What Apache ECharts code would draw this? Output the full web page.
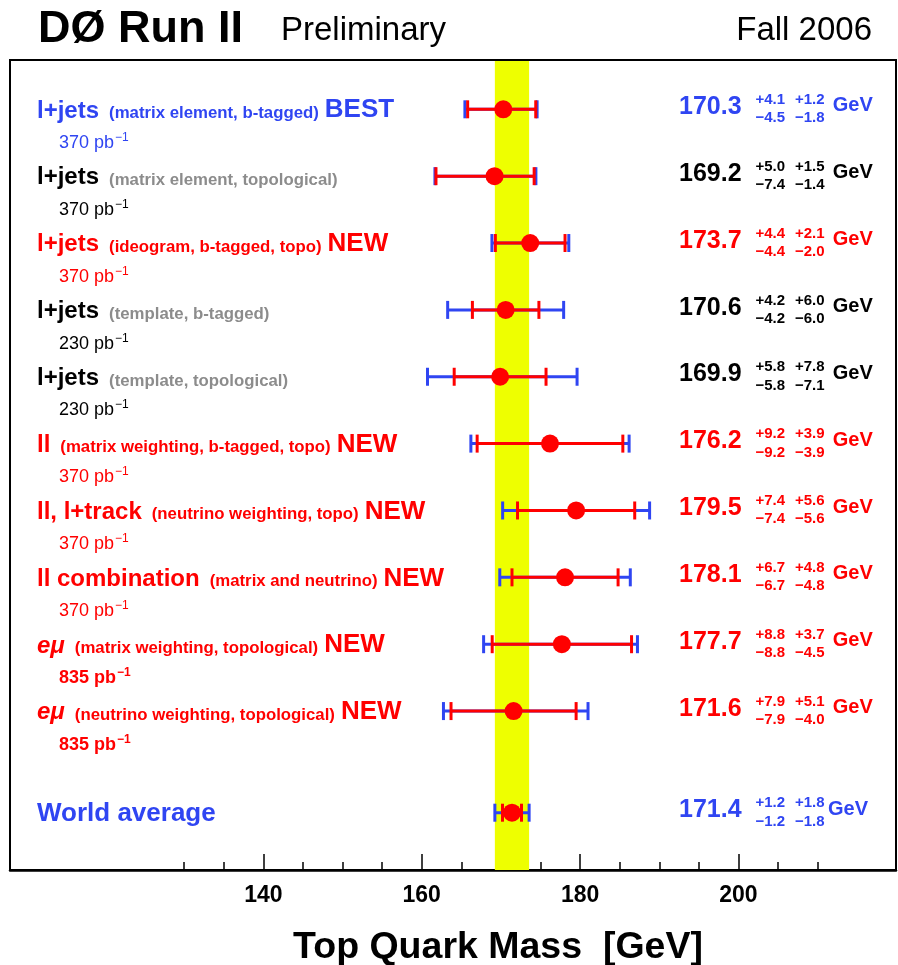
<!DOCTYPE html>
<html><head><meta charset="utf-8">
<script src="https://cdn.jsdelivr.net/npm/echarts@6/dist/echarts.min.js"></script>
<style>html,body{margin:0;padding:0;background:#fff}#c{width:898px;height:965px}</style>
</head><body><div id="c"></div>
<script>
// ---------------- data ----------------
const channels = ['l+jets','l+jets','l+jets','l+jets','l+jets','ll','ll, l+track','ll combination','eμ','eμ','World average'];
const methods = ['(matrix element, b-tagged)','(matrix element, topological)','(ideogram, b-tagged, topo)','(template, b-tagged)','(template, topological)','(matrix weighting, b-tagged, topo)','(neutrino weighting, topo)','(matrix and neutrino)','(matrix weighting, topological)','(neutrino weighting, topological)',''];
const tags = ['BEST','','NEW','','','NEW','NEW','NEW','NEW','NEW',''];
const luminosity = ['370','370','370','230','230','370','370','370','835','835',''];
const mass = [170.3,169.2,173.7,170.6,169.9,176.2,179.5,178.1,177.7,171.6,171.4];
const statPlus = [4.1,5.0,4.4,4.2,5.8,9.2,7.4,6.7,8.8,7.9,1.2];
const statMinus = [4.5,7.4,4.4,4.2,5.8,9.2,7.4,6.7,8.8,7.9,1.2];
const systPlus = [1.2,1.5,2.1,6.0,7.8,3.9,5.6,4.8,3.7,5.1,1.8];
const systMinus = [1.8,1.4,2.0,6.0,7.1,3.9,5.6,4.8,4.5,4.0,1.8];
const xMajorTicks = [140,160,180,200];
const xMinorTicks = [130,135,140,145,150,155,160,165,170,175,180,185,190,195,200,205,210];

// ---------------- style ----------------
const FONT = '"Liberation Sans", Arial, Helvetica, sans-serif';
const BLUE = '#2f45f2', RED = '#ff0000', BLACK = '#000000', GRAY = '#8c8c8c', YELLOW = '#eeff00';
const rowColor = [BLUE,BLACK,RED,BLACK,BLACK,RED,RED,RED,RED,RED,BLUE];
const rowPos = i => (i < 10 ? i + 1 : 11.52);
const N = mass.length;
const totPlus = mass.map((m,i)=>Math.hypot(statPlus[i], systPlus[i]));
const totMinus = mass.map((m,i)=>Math.hypot(statMinus[i], systMinus[i]));

const ctx = document.createElement('canvas').getContext('2d');
function tw(text, size, weight, style){ ctx.font = (style||'normal')+' '+(weight||'normal')+' '+size+'px "Liberation Sans"'; return ctx.measureText(text).width; }
const K = 0.3465; // middle -> baseline offset in em
function txt(text, x, baseline, size, color, weight, style){
  return {type:'text', x:x, y:baseline - K*size, style:{text:text, fontSize:size, fontFamily:FONT, fontWeight:weight||'normal', fontStyle:style||'normal', fill:color, align:'left', verticalAlign:'middle'}};
}

const chart = echarts.init(document.getElementById('c'));
const option = {
  animation:false,
  title:[
    {text:'DØ Run II', left:38, top:7, padding:0, textStyle:{fontSize:45, fontWeight:'bold', fontFamily:FONT, color:'#000'}},
    {text:'Preliminary', left:281, top:14, padding:0, textStyle:{fontSize:33, fontWeight:'normal', fontFamily:FONT, color:'#000'}},
    {text:'Fall 2006', right:26, top:14, padding:0, textStyle:{fontSize:33, fontWeight:'normal', fontFamily:FONT, color:'#000'}}
  ],
  grid:{left:10, top:60, width:886, height:810, outerBoundsMode:'none', containLabel:false, show:true, borderColor:'#000', borderWidth:2, backgroundColor:'transparent'},
  xAxis:[
    {type:'value', min:108.0, max:219.9, position:'bottom',
     axisLine:{show:true, lineStyle:{color:'#000', width:2.5}},
     axisTick:{show:true, inside:true, length:16, customValues:xMajorTicks, lineStyle:{color:'#000', width:1.5}},
     axisLabel:{show:true, customValues:xMajorTicks, margin:14, fontSize:23, fontWeight:'bold', fontFamily:FONT, color:'#000'},
     splitLine:{show:false},
     name:'Top Quark Mass  [GeV]', nameLocation:'middle', nameGap:59,
     nameTextStyle:{fontSize:37.5, fontWeight:'bold', fontFamily:FONT, color:'#000', padding:[0,0,0,90]}},
    {type:'value', min:108.0, max:219.9, position:'bottom',
     axisLine:{show:false}, axisLabel:{show:false}, splitLine:{show:false},
     axisTick:{show:true, inside:true, length:8, customValues:xMinorTicks, lineStyle:{color:'#000', width:1.5}}}
  ],
  yAxis:{type:'value', inverse:true, min:0.2626, max:12.377, show:false},
  series:[
    { // world-average band
      type:'custom', z:1, silent:true, xAxisIndex:0,
      data:[[mass[N-1]-totMinus[N-1], mass[N-1]+totPlus[N-1]]],
      renderItem:(p, api)=>{
        const x0 = api.coord([api.value(0), 1])[0], x1 = api.coord([api.value(1), 1])[0];
        const cs = p.coordSys;
        return {type:'rect', shape:{x:x0, y:cs.y+1, width:x1-x0, height:cs.height-1}, style:{fill:YELLOW}};
      }
    },
    { // error bars
      type:'custom', z:2, silent:true, xAxisIndex:0,
      data:mass.map((m,i)=>[m, rowPos(i), m-totMinus[i], m+totPlus[i], m-statMinus[i], m+statPlus[i]]),
      renderItem:(p, api)=>{
        const y = api.coord([api.value(0), api.value(1)])[1];
        const X = v => api.coord([v, api.value(1)])[0];
        const tl=X(api.value(2)), th=X(api.value(3)), sl=X(api.value(4)), sh=X(api.value(5));
        const h = 9;
        const ln = (x1,y1,x2,y2,c)=>({type:'line', shape:{x1,y1,x2,y2}, style:{stroke:c, lineWidth:3}});
        return {type:'group', children:[
          ln(tl,y,th,y,BLUE), ln(tl,y-h,tl,y+h,BLUE), ln(th,y-h,th,y+h,BLUE),
          ln(sl,y,sh,y,RED), ln(sl,y-h,sl,y+h,RED), ln(sh,y-h,sh,y+h,RED)
        ]};
      }
    },
    { // central values
      type:'scatter', z:3, silent:true, xAxisIndex:0,
      symbol:'circle', symbolSize:18, itemStyle:{color:RED, opacity:1},
      data:mass.map((m,i)=>[m, rowPos(i)])
    },
    { // text annotations
      type:'custom', z:4, silent:true, xAxisIndex:0,
      data:mass.map((m,i)=>[m, rowPos(i), i]),
      renderItem:(p, api)=>{
        const i = api.value(2);
        const y = api.coord([api.value(0), api.value(1)])[1];
        const cs = p.coordSys, L = cs.x, R = cs.x + cs.width;
        const c = rowColor[i];
        const ch = [];
        const isWA = (i === N-1);
        const mainSize = isWA ? 26 : 24;
        const italic = channels[i] === 'eμ' ? 'italic' : 'normal';
        let x = L + 27;
        ch.push(txt(channels[i], x, y+10, mainSize, c, 'bold', italic));
        x += tw(channels[i], mainSize, 'bold', italic) + 10;
        if (methods[i]) {
          const pc = (c === BLACK) ? GRAY : c;
          ch.push(txt(methods[i], x, y+10, 16.8, pc, 'bold'));
          x += tw(methods[i], 16.8, 'bold') + 6;
        }
        if (tags[i]) ch.push(txt(tags[i], x, y+10, 26, c, 'bold'));
        if (luminosity[i]) {
          const lw = (luminosity[i] === '835') ? 'bold' : 'normal';
          const s = luminosity[i] + ' pb';
          const x0 = L + 49;
          ch.push(txt(s, x0, y+40, 18, c, lw));
          ch.push(txt('−1', x0 + tw(s, 18, lw) + 1, y+32.5, 12, c, lw));
        }
        ch.push(txt(mass[i].toFixed(1), R-217, y+6.5, 25, c, 'bold'));
        ch.push(txt('+'+statPlus[i].toFixed(1), R-140.5, y-4.3, 15, c, 'bold'));
        ch.push(txt('−'+statMinus[i].toFixed(1), R-140.5, y+14, 15, c, 'bold'));
        ch.push(txt('+'+systPlus[i].toFixed(1), R-101, y-4.3, 15, c, 'bold'));
        ch.push(txt('−'+systMinus[i].toFixed(1), R-101, y+14, 15, c, 'bold'));
        ch.push(txt('GeV', isWA ? R-68 : R-63.3, y+3.5, 20, c, 'bold'));
        return {type:'group', children:ch};
      }
    }
  ]
};
chart.setOption(option);
</script></body></html>
